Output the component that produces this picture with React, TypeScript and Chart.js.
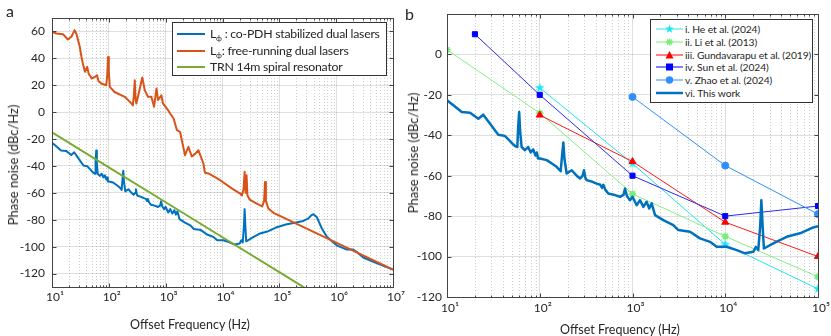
import React, { useEffect, useRef } from 'react';
import { Chart, registerables } from 'chart.js';
Chart.register(...registerables);

const FONT = 'Lato, "Open Sans", "DejaVu Sans", sans-serif';
const INK = '#262626';

// ---------- Panel a data (offset frequency Hz, phase noise dBc/Hz) ----------
const workPts: [number, number][] = [
  [10, -22.7], [12, -25.5], [14.4, -28.5], [17.7, -28.8], [21.8, -31.8], [24.6, -29.8], [29, -34.2],
  [35.7, -39.7], [42, -40.3], [47, -42.5], [51.9, -44.6], [55, -45.5], [57.3, -45.8], [58.5, -36],
  [60, -28.5], [61.5, -38], [63.8, -45.8], [69.3, -47.4], [75, -45.8], [80, -48.5], [85, -47],
  [90, -50], [93, -48.5], [96, -51.5], [100.7, -51.5], [119, -52.3], [135, -54], [152, -55.6],
  [168, -57.8], [174, -50], [179.6, -43.6], [185, -52], [195, -58.9], [221, -57.3], [250, -60],
  [272, -61.4], [290, -60], [300, -57.3], [310, -61], [320, -62.2], [370, -63], [411, -63.9],
  [450, -64.5], [470, -66], [485, -64.5], [510, -67], [548, -68.8], [640, -69.5], [733, -70.5],
  [800, -69.5], [830, -66.3], [870, -70], [940, -72.1], [1000, -70.4], [1110, -74.6], [1205, -72.1],
  [1310, -75.4], [1420, -72.9], [1515, -76.2], [1610, -73.7], [1750, -79.5], [2150, -82],
  [2755, -84.4], [3120, -86.9], [4170, -87.7], [5340, -91], [6850, -92.7], [8090, -95.2],
  [10370, -95.2], [13300, -96.8], [16300, -98.4], [20100, -97.6], [21400, -95.2], [22700, -96.8],
  [23800, -85], [24500, -72.1], [25300, -85], [26100, -96], [33000, -93.5], [45900, -90.2],
  [64000, -88.5], [89000, -85.6], [100000, -85], [130000, -83.5], [177000, -82.4], [265000, -80.9],
  [325000, -79], [370000, -76.5], [397000, -75.9], [455000, -77.9], [560000, -86.5], [690000, -92.8],
  [1020000, -99], [1540000, -102.2], [2000000, -102.2], [2300000, -104], [3000000, -108.1],
  [5000000, -112], [10000000, -117],
];

const freePts: [number, number][] = [
  [10, 59.7], [12, 58.5], [15.6, 58], [19, 54], [21.9, 56], [25, 61], [27, 58], [30.8, 48.6],
  [33, 41], [35, 36], [38, 30], [41.6, 33.7], [44, 28.8], [50, 25], [56, 26], [62, 27.5], [66, 23],
  [74, 21.3], [90, 20], [94, 28], [97, 41], [100, 30], [104, 18.8], [126, 15], [190, 11.4],
  [250, 6.5], [265, 5], [275, 12], [286, 23.8], [295, 10], [305, 6.5], [346, 16.4], [388, 25.8],
  [428, 16.4], [488, 11.4], [560, 11.4], [625, 4], [690, 17.6], [735, 9], [840, 12.6], [895, 6.5],
  [1100, 1.5], [1200, -1], [1380, -4.7], [1580, -13.4], [1790, -14.6], [2190, -32], [2510, -25.8],
  [2880, -33], [3300, -31], [3760, -28.3], [4600, -38], [4900, -45], [5650, -45.6], [9100, -50.6],
  [15000, -57], [20500, -60.5], [22000, -62], [23500, -57], [24500, -44.4], [25500, -60],
  [26500, -47], [27500, -62], [30000, -65], [40000, -68], [50000, -70], [54000, -66], [56000, -52],
  [58000, -66], [64000, -71.6], [80000, -75], [100000, -77], [1000000, -97], [10000000, -117],
];

const trnFreq = [10, 1e2, 1e3, 1e4, 1e5, 1e6];
const trnNoise = [-15, -41, -67, -93, -119, -145];

// ---------- Panel b data ----------
const heFreq = [1e2, 1e3, 1e4, 1e5];
const heNoise = [-16.5, -54, -94, -116];
const liFreq = [10, 1e2, 1e3, 1e4, 1e5];
const liNoise = [2.3, -29, -69, -90, -110];
const gundFreq = [1e2, 1e3, 1e4, 1e5];
const gundNoise = [-30, -53, -83, -100];
const sunFreq = [20, 1e2, 1e3, 1e4, 1e5];
const sunNoise = [10, -20, -60, -80, -75];
const zhaoFreq = [1e3, 1e4, 1e5];
const zhaoNoise = [-21, -55, -79];

// ---------- Axes ----------
const yTicksA = [-120, -100, -80, -60, -40, -20, 0, 20, 40, 60];
const yTicksB = [-120, -100, -80, -60, -40, -20, 0];
const xDecadesA = [1e1, 1e2, 1e3, 1e4, 1e5, 1e6, 1e7];
const xDecadesB = [1e1, 1e2, 1e3, 1e4, 1e5];

const legendA = [
  { main: 'L', sub: 'ϕ', rest: ' : co-PDH stabilized dual lasers', color: '#0072BD' },
  { main: 'L', sub: 'ϕ', rest: ': free-running dual lasers', color: '#D95319' },
  { main: 'TRN 14m spiral resonator', sub: '', rest: '', color: '#77AC30' },
];
const legendB = [
  'i. He et al. (2024)',
  'ii. Li et al. (2013)',
  'iii. Gundavarapu et al. (2019)',
  'iv. Sun et al. (2024)',
  'v. Zhao et al. (2024)',
  'vi. This work',
];

const C_HE = '#1EE6EE';
const C_LI = '#86EE86';
const C_GU = '#FF1A1A';
const C_SUN = '#2A2AEE';
const C_ZHAO = '#2F8FFF';
const C_WORK = '#0072BD';

const SUP = '⁰¹²³⁴⁵⁶⁷⁸⁹';
const decadeLabel = (v: number) => {
  const e = Math.round(Math.log10(v));
  return '10' + String(e).split('').map((d) => SUP[Number(d)]).join('');
};
const pairs = (p: [number, number][]) => p.map(([x, y]) => ({ x, y }));
const xy = (xs: number[], ys: number[]) => xs.map((x, i) => ({ x, y: ys[i] }));

function minorValues(min: number, max: number) {
  const out: number[] = [];
  for (let e = Math.round(Math.log10(min)); e < Math.round(Math.log10(max)); e++) {
    for (let k = 2; k <= 9; k++) out.push(k * Math.pow(10, e));
  }
  return out;
}

const framePlugin = {
  id: 'frame',
  beforeDatasetsDraw(chart: any) {
    const { ctx, chartArea: a } = chart;
    const x = chart.scales.x;
    ctx.save();
    ctx.strokeStyle = 'rgba(38,38,38,0.22)';
    ctx.lineWidth = 1;
    ctx.setLineDash([1, 2]);
    for (const v of minorValues(x.min, x.max)) {
      const px = Math.round(x.getPixelForValue(v)) + 0.5;
      ctx.beginPath();
      ctx.moveTo(px, a.top);
      ctx.lineTo(px, a.bottom);
      ctx.stroke();
    }
    ctx.restore();
  },
  afterDraw(chart: any) {
    const { ctx, chartArea: a } = chart;
    const x = chart.scales.x;
    const y = chart.scales.y;
    const L = Math.round(a.left) + 0.5;
    const R = Math.round(a.right) + 0.5;
    const T = Math.round(a.top) + 0.5;
    const B = Math.round(a.bottom) + 0.5;
    ctx.save();
    ctx.strokeStyle = '#444';
    ctx.lineWidth = 1;
    ctx.strokeRect(L, T, R - L, B - T);
    ctx.beginPath();
    for (const t of x.ticks) {
      const px = Math.round(x.getPixelForValue(t.value)) + 0.5;
      ctx.moveTo(px, B); ctx.lineTo(px, B - 4);
      ctx.moveTo(px, T); ctx.lineTo(px, T + 4);
    }
    for (const v of minorValues(x.min, x.max)) {
      const px = Math.round(x.getPixelForValue(v)) + 0.5;
      ctx.moveTo(px, B); ctx.lineTo(px, B - 2);
      ctx.moveTo(px, T); ctx.lineTo(px, T + 2);
    }
    for (const t of y.ticks) {
      const py = Math.round(y.getPixelForValue(t.value)) + 0.5;
      ctx.moveTo(L, py); ctx.lineTo(L + 4, py);
      ctx.moveTo(R, py); ctx.lineTo(R - 4, py);
    }
    ctx.stroke();
    ctx.restore();
  },
};

function makeScales(opts: {
  xMin: number; xMax: number; decades: number[]; yMin: number; yMax: number; yTicks: number[];
  yWidth: number; xHeight: number; yPad: number; xPad: number;
}) {
  const tickFont = { family: FONT, size: 12 };
  return {
    x: {
      type: 'logarithmic',
      min: opts.xMin,
      max: opts.xMax,
      afterBuildTicks: (s: any) => { s.ticks = opts.decades.map((v) => ({ value: v })); },
      afterFit: (s: any) => { s.height = opts.xHeight; },
      ticks: {
        autoSkip: false, maxRotation: 0, minRotation: 0, padding: opts.xPad, labelOffset: 3,
        color: INK, font: tickFont,
        callback: (v: any) => decadeLabel(Number(v)),
      },
      grid: { color: 'rgba(38,38,38,0.15)', drawTicks: false, lineWidth: 1 },
      border: { display: false },
    },
    y: {
      type: 'linear',
      min: opts.yMin,
      max: opts.yMax,
      afterBuildTicks: (s: any) => { s.ticks = opts.yTicks.map((v) => ({ value: v })); },
      afterFit: (s: any) => { s.width = opts.yWidth; },
      ticks: { padding: opts.yPad, color: INK, font: tickFont, callback: (v: any) => String(v) },
      grid: { color: 'rgba(38,38,38,0.15)', drawTicks: false, lineWidth: 1 },
      border: { display: false },
    },
  };
}

function makePentagram(r: number, color: string) {
  const c = document.createElement('canvas');
  const s = Math.ceil(r * 2 + 2);
  c.width = s; c.height = s;
  const g = c.getContext('2d')!;
  g.beginPath();
  for (let i = 0; i < 10; i++) {
    const rr = i % 2 === 0 ? r : r * 0.42;
    const ang = -Math.PI / 2 + (i * Math.PI) / 5;
    g.lineTo(s / 2 + rr * Math.cos(ang), s / 2 + rr * Math.sin(ang));
  }
  g.closePath();
  g.fillStyle = color;
  g.fill();
  return c;
}

function LegendMarker({ kind, color }: { kind: string; color: string }) {
  const cx = 13.5, cy = 5;
  let marker: any = null;
  if (kind === 'star') {
    const p: string[] = [];
    for (let i = 0; i < 10; i++) {
      const rr = i % 2 === 0 ? 4.5 : 1.9;
      const ang = -Math.PI / 2 + (i * Math.PI) / 5;
      p.push(`${cx + rr * Math.cos(ang)},${cy + rr * Math.sin(ang)}`);
    }
    marker = <polygon points={p.join(' ')} fill={color} />;
  } else if (kind === 'ast') {
    marker = (
      <g stroke={color} strokeWidth={1.5}>
        <line x1={cx - 3.5} y1={cy} x2={cx + 3.5} y2={cy} />
        <line x1={cx} y1={cy - 3.5} x2={cx} y2={cy + 3.5} />
        <line x1={cx - 2.5} y1={cy - 2.5} x2={cx + 2.5} y2={cy + 2.5} />
        <line x1={cx - 2.5} y1={cy + 2.5} x2={cx + 2.5} y2={cy - 2.5} />
      </g>
    );
  } else if (kind === 'tri') {
    marker = <polygon points={`${cx},${cy - 4} ${cx - 4},${cy + 3.5} ${cx + 4},${cy + 3.5}`} fill={color} />;
  } else if (kind === 'sq') {
    marker = <rect x={cx - 3.5} y={cy - 3.5} width={7} height={7} fill={color} />;
  } else if (kind === 'circ') {
    marker = <circle cx={cx} cy={cy} r={3.7} fill={color} />;
  }
  return (
    <svg width={27} height={10} style={{ display: 'block' }}>
      <line x1={0} y1={cy} x2={27} y2={cy} stroke={color} strokeWidth={kind === 'thick' ? 2.5 : 1} />
      {marker}
    </svg>
  );
}

export default function App() {
  const refA = useRef<HTMLCanvasElement>(null);
  const refB = useRef<HTMLCanvasElement>(null);

  useEffect(() => {
    const chartA = new Chart(refA.current!, {
      type: 'line',
      data: {
        datasets: [
          { label: 'TRN', data: xy(trnFreq, trnNoise), borderColor: '#77AC30', borderWidth: 2, pointRadius: 0, tension: 0 },
          { label: 'free', data: pairs(freePts), borderColor: '#D95319', borderWidth: 2, pointRadius: 0, tension: 0, borderJoinStyle: 'round' },
          { label: 'work', data: pairs(workPts), borderColor: C_WORK, borderWidth: 2, pointRadius: 0, tension: 0, borderJoinStyle: 'round' },
        ],
      } as any,
      options: {
        animation: false,
        responsive: false,
        maintainAspectRatio: false,
        layout: { padding: { left: 0, right: 12, top: 18, bottom: 0 } },
        plugins: { legend: { display: false }, tooltip: { enabled: false } },
        scales: makeScales({
          xMin: 10, xMax: 1e7, decades: xDecadesA, yMin: -130, yMax: 70, yTicks: yTicksA,
          yWidth: 52, xHeight: 49, yPad: 7, xPad: 3,
        }) as any,
      },
      plugins: [framePlugin],
    });

    const star = makePentagram(5, C_HE);
    const thin = { borderWidth: 1, tension: 0 };
    const chartB = new Chart(refB.current!, {
      type: 'line',
      data: {
        datasets: [
          { label: 'vi. This work', data: pairs(workPts.filter((p) => p[0] <= 1e5)), borderColor: C_WORK, borderWidth: 2.5, pointRadius: 0, tension: 0, borderJoinStyle: 'round' },
          { label: 'v', data: xy(zhaoFreq, zhaoNoise), borderColor: C_ZHAO, pointStyle: 'circle', pointRadius: 3.5, pointBackgroundColor: C_ZHAO, pointBorderColor: C_ZHAO, ...thin },
          { label: 'iv', data: xy(sunFreq, sunNoise), borderColor: C_SUN, pointStyle: 'rect', pointRadius: 3.6, pointBackgroundColor: '#0000FF', pointBorderColor: '#0000FF', ...thin },
          { label: 'iii', data: xy(gundFreq, gundNoise), borderColor: C_GU, pointStyle: 'triangle', pointRadius: 4, pointBackgroundColor: '#FF0000', pointBorderColor: '#FF0000', ...thin },
          { label: 'ii', data: xy(liFreq, liNoise), borderColor: C_LI, pointStyle: 'star', pointRadius: 3.5, pointBorderWidth: 1.8, pointBorderColor: '#77EE77', ...thin },
          { label: 'i', data: xy(heFreq, heNoise), borderColor: C_HE, pointStyle: star, pointRadius: 5, ...thin },
        ],
      } as any,
      options: {
        animation: false,
        responsive: false,
        maintainAspectRatio: false,
        layout: { padding: { left: 0, right: 13, top: 14, bottom: 0 } },
        plugins: { legend: { display: false }, tooltip: { enabled: false } },
        scales: makeScales({
          xMin: 10, xMax: 1e5, decades: xDecadesB, yMin: -120, yMax: 20, yTicks: yTicksB,
          yWidth: 44, xHeight: 39, yPad: 5, xPad: 4,
        }) as any,
      },
      plugins: [framePlugin],
    });

    return () => { chartA.destroy(); chartB.destroy(); };
  }, []);

  const abs = (s: any) => ({ position: 'absolute', ...s });
  const txt = { fontFamily: FONT, color: INK, whiteSpace: 'nowrap' as const };
  const markerKinds = ['star', 'ast', 'tri', 'sq', 'circ', 'thick'];
  const markerColors = [C_HE, '#77EE77', '#FF0000', '#0000FF', C_ZHAO, C_WORK];
  const rowsB = [9, 22, 34.5, 47, 60, 73];
  const rowsA = [11, 27.5, 44];

  return (
    <div style={abs({ left: 0, top: 0, width: 831, height: 336, background: '#fff', overflow: 'hidden' })}>
      <canvas ref={refA} width={405} height={336} style={abs({ left: 0, top: 0, width: 405, height: 336 })} />
      <canvas ref={refB} width={428} height={336} style={abs({ left: 403, top: 0, width: 428, height: 336 })} />

      <div style={abs({ ...txt, left: 6, top: 1, fontSize: 16, lineHeight: '20px' })}>a</div>
      <div style={abs({ ...txt, left: 405, top: 4, fontSize: 16, lineHeight: '20px' })}>b</div>

      <div style={abs({ ...txt, left: 12.7, top: 165, fontSize: 13, transform: 'translate(-50%,-50%) rotate(-90deg)' })}>Phase noise (dBc/Hz)</div>
      <div style={abs({ ...txt, left: 412.5, top: 153, fontSize: 13, transform: 'translate(-50%,-50%) rotate(-90deg)' })}>Phase noise (dBc/Hz)</div>
      <div style={abs({ ...txt, left: 190, top: 324, fontSize: 12.5, transform: 'translate(-50%,-50%)' })}>Offset Frequency (Hz)</div>
      <div style={abs({ ...txt, left: 620, top: 329, fontSize: 12.5, transform: 'translate(-50%,-50%)' })}>Offset Frequency (Hz)</div>

      <div style={abs({ left: 172, top: 22, width: 215, height: 54, border: '1px solid #333', background: '#fff', boxSizing: 'border-box' })}>
        {legendA.map((r, i) => (
          <div key={i} style={abs({ left: 0, top: rowsA[i] - 9, height: 18, width: 213 })}>
            <div style={abs({ left: 4, top: 8, width: 28, height: 2, background: r.color })} />
            <div style={abs({ ...txt, left: 37, top: 0, fontSize: 12.3, letterSpacing: '-0.25px', lineHeight: '18px' })}>
              {r.main}
              {r.sub ? <sub style={{ fontSize: 8, verticalAlign: '-3px' }}>{r.sub}</sub> : null}
              {r.rest}
            </div>
          </div>
        ))}
      </div>

      <div style={abs({ left: 650, top: 19, width: 163, height: 84, border: '1px solid #333', background: '#fff', boxSizing: 'border-box' })}>
        {legendB.map((t, i) => (
          <div key={i} style={abs({ left: 0, top: rowsB[i] - 7, height: 14, width: 161 })}>
            <div style={abs({ left: 5, top: 2 })}>
              <LegendMarker kind={markerKinds[i]} color={markerColors[i]} />
            </div>
            <div style={abs({ ...txt, left: 34, top: 0, fontSize: 10.3, letterSpacing: '-0.1px', lineHeight: '14px' })}>{t}</div>
          </div>
        ))}
      </div>
    </div>
  );
}
